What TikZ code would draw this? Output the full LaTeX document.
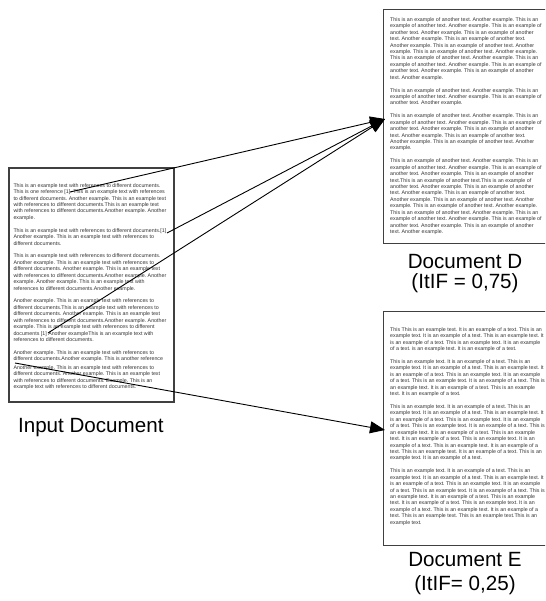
\documentclass[tikz,border=0pt]{standalone}
\usepackage{fontspec}
\setmainfont{Liberation Sans}
\usetikzlibrary{arrows.meta}
\frenchspacing
\tikzset{
  docbox/.style={draw=black!75, line width=1.4pt, minimum width=165pt, minimum height=234pt, anchor=north west, inner sep=0pt},
  small/.style={anchor=north west, inner sep=0pt, align=left, text=black!80, font=\fontsize{5.3}{6.43}\selectfont},
  title/.style={anchor=base, inner sep=0pt, font=\fontsize{20.6}{22}\selectfont},
  refarrow/.style={line width=0.9pt, -{Triangle[length=15pt,width=12pt]}}
}
\begin{document}
\begin{tikzpicture}[x=1pt,y=-1pt]
\useasboundingbox (0,0) rectangle (545,601);
\clip (0,0) rectangle (545,601);

% boxes
\node[docbox] (inbox) at (8.3,167.3) {};
\node[docbox] (dbox) at (383,9) {};
\node[docbox] (ebox) at (383,310.5) {};

% input document text
\node[small] (intext) at (13.3,183.2) {%
This is an example text with references to different documents.\\
This is one reference [1]. This is an example text with references\\
to different documents. Another example. This is an example text\\
with references to different documents.This is an example text\\
with references to different documents.Another example. Another\\
example.\\[6.43pt]
This is an example text with references to different documents.[1]\\
Another example. This is an example text with references to\\
different documents.\\[6.43pt]
This is an example text with references to different documents.\\
Another example. This is an example text with references to\\
different documents. Another example. This is an example text\\
with references to different documents.Another example. Another\\
example. Another example. This is an example text with\\
references to different documents.Another example.\\[6.43pt]
Another example. This is an example text with references to\\
different documents.This is an example text with references to\\
different documents. Another example. This is an example text\\
with references to different documents.Another example. Another\\
example. This is an example text with references to different\\
documents [1] Another exampleThis is an example text with\\
references to different documents.\\[6.43pt]
Another example. This is an example text with references to\\
different documents.Another example. This is another reference\\
[2] Another example. This is an example text with references to\\
different documents. Another example. This is an example text\\
with references to different documents. Example. This is an\\
example text with references to different documents.};

% document D text
\node[small] (dtext) at (390,17.3) {%
This is an example of another text. Another example. This is an\\
example of another text. Another example. This is an example of\\
another text. Another example. This is an example of another\\
text. Another example. This is an example of another text.\\
Another example. This is an example of another text. Another\\
example. This is an example of another text. Another example.\\
This is an example of another text. Another example. This is an\\
example of another text. Another example. This is an example of\\
another text. Another example. This is an example of another\\
text. Another example.\\[6.43pt]
This is an example of another text. Another example. This is an\\
example of another text. Another example. This is an example of\\
another text. Another example.\\[6.43pt]
This is an example of another text. Another example. This is an\\
example of another text. Another example. This is an example of\\
another text. Another example. This is an example of another\\
text. Another example. This is an example of another text.\\
Another example. This is an example of another text. Another\\
example.\\[6.43pt]
This is an example of another text. Another example. This is an\\
example of another text. Another example. This is an example of\\
another text. Another example. This is an example of another\\
text.This is an example of another text.This is an example of\\
another text. Another example. This is an example of another\\
text. Another example. This is an example of another text.\\
Another example. This is an example of another text. Another\\
example. This is an example of another text. Another example.\\
This is an example of another text. Another example. This is an\\
example of another text. Another example. This is an example of\\
another text. Another example. This is an example of another\\
text. Another example.};

% document E text
\node[small] (etext) at (390,327.3) {%
This This is an example text. It is an example of a text. This is an\\
example text. It is an example of a text. This is an example text. It\\
is an example of a text. This is an example text. It is an example\\
of a text. is an example text. It is an example of a text.\\[6.43pt]
This is an example text. It is an example of a text. This is an\\
example text. It is an example of a text. This is an example text. It\\
is an example of a text. This is an example text. It is an example\\
of a text. This is an example text. It is an example of a text. This is\\
an example text. It is an example of a text. This is an example\\
text. It is an example of a text.\\[6.43pt]
This is an example text. It is an example of a text. This is an\\
example text. It is an example of a text. This is an example text. It\\
is an example of a text. This is an example text. It is an example\\
of a text. This is an example text. It is an example of a text. This is\\
an example text. It is an example of a text. This is an example\\
text. It is an example of a text. This is an example text. It is an\\
example of a text. This is an example text. It is an example of a\\
text. This is an example text. It is an example of a text. This is an\\
example text. It is an example of a text.\\[6.43pt]
This is an example text. It is an example of a text. This is an\\
example text. It is an example of a text. This is an example text. It\\
is an example of a text. This is an example text. It is an example\\
of a text. This is an example text. It is an example of a text. This is\\
an example text. It is an example of a text. This is an example\\
text. It is an example of a text. This is an example text. It is an\\
example of a text. This is an example text. It is an example of a\\
text. This is an example text. This is an example text.This is an\\
example text.};

% labels
\node[title] (inlabel) at (90.8,432) {Input Document};
\node[title] (dlabel) at (465,268.3) {Document D};
\node[title] (dtif) at (465,288.3) {(ItIF = 0,75)};
\node[title] (elabel) at (465,566.7) {Document E};
\node[title] (etif) at (465,590) {(ItIF= 0,25)};

% reference anchors
\coordinate (r1) at (70,192);
\coordinate (r2) at (167,233);
\coordinate (r3) at (48,333);
\coordinate (r4) at (15,363);
\coordinate (dIn) at (385,119);
\coordinate (eIn) at (385,430);

\draw[refarrow] (r1) -- (dIn);
\draw[refarrow] (r2) -- (dIn);
\draw[refarrow] (r3) -- (dIn);
\draw[refarrow] (r4) -- (eIn);
\end{tikzpicture}
\end{document}
